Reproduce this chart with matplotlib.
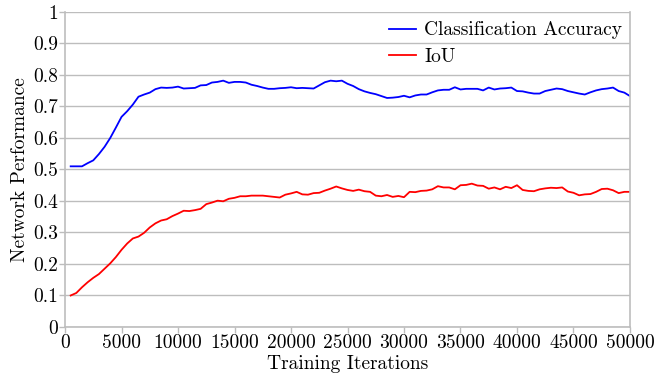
import numpy as np
import matplotlib
matplotlib.use('Agg')
import matplotlib.pyplot as plt

plt.rcParams['font.family'] = ['cmr10', 'DejaVu Serif']
plt.rcParams['mathtext.fontset'] = 'cm'
plt.rcParams['axes.formatter.use_mathtext'] = True

iterations = np.arange(500, 50001, 500)

accuracy = [
    0.510, 0.510, 0.510, 0.520, 0.529, 0.549, 0.572, 0.600, 0.633, 0.667,
    0.685, 0.706, 0.731, 0.738, 0.744, 0.755, 0.760, 0.759, 0.760, 0.763,
    0.757, 0.758, 0.759, 0.767, 0.768, 0.776, 0.778, 0.782, 0.775, 0.778,
    0.778, 0.776, 0.769, 0.765, 0.760, 0.756, 0.756, 0.758, 0.759, 0.761,
    0.758, 0.759, 0.758, 0.757, 0.767, 0.777, 0.782, 0.780, 0.782, 0.772,
    0.765, 0.755, 0.748, 0.743, 0.739, 0.733, 0.727, 0.728, 0.730, 0.734,
    0.729, 0.735, 0.738, 0.738, 0.745, 0.751, 0.753, 0.753, 0.761, 0.754,
    0.756, 0.756, 0.756, 0.751, 0.760, 0.754, 0.757, 0.758, 0.760, 0.749,
    0.748, 0.744, 0.741, 0.741, 0.749, 0.753, 0.757, 0.755, 0.749, 0.745,
    0.741, 0.738, 0.745, 0.751, 0.755, 0.757, 0.760, 0.749, 0.744, 0.733,
]

iou = [
    0.100, 0.108, 0.126, 0.142, 0.156, 0.168, 0.185, 0.202, 0.222, 0.245,
    0.265, 0.281, 0.287, 0.299, 0.316, 0.329, 0.338, 0.342, 0.352, 0.360,
    0.369, 0.368, 0.371, 0.375, 0.390, 0.395, 0.401, 0.399, 0.407, 0.410,
    0.415, 0.415, 0.417, 0.417, 0.417, 0.415, 0.413, 0.411, 0.420, 0.424,
    0.429, 0.421, 0.420, 0.425, 0.426, 0.433, 0.439, 0.446, 0.440, 0.435,
    0.432, 0.436, 0.431, 0.429, 0.417, 0.415, 0.419, 0.413, 0.416, 0.412,
    0.429, 0.428, 0.432, 0.433, 0.437, 0.447, 0.443, 0.443, 0.437, 0.450,
    0.451, 0.455, 0.449, 0.448, 0.439, 0.443, 0.437, 0.445, 0.441, 0.450,
    0.435, 0.432, 0.431, 0.437, 0.440, 0.442, 0.441, 0.443, 0.430, 0.426,
    0.418, 0.421, 0.422, 0.429, 0.438, 0.439, 0.434, 0.425, 0.429, 0.429,
]

x_ticks = list(range(0, 50001, 5000))
y_ticks = [0, 0.1, 0.2, 0.3, 0.4, 0.5, 0.6, 0.7, 0.8, 0.9, 1]
y_labels = ['0', '0.1', '0.2', '0.3', '0.4', '0.5', '0.6', '0.7', '0.8', '0.9', '1']

fig = plt.figure(figsize=(6.67, 3.74), dpi=100)
ax = fig.add_axes([0.0975, 0.1257, 0.847, 0.8423])

grid_col = '#bdbdbd'
ax.set_axisbelow(True)
ax.yaxis.grid(True, color=grid_col, linewidth=1.0)

ax.plot(iterations, accuracy, color='#0000ff', linewidth=1.3, label='Classification Accuracy')
ax.plot(iterations, iou, color='#ff0000', linewidth=1.3, label='IoU')

ax.set_xlim(0, 50000)
ax.set_ylim(0, 1)
ax.set_xticks(x_ticks)
ax.set_xticklabels([str(t) for t in x_ticks])
ax.set_yticks(y_ticks)
ax.set_yticklabels(y_labels)

for side in ['left', 'right', 'bottom']:
    ax.spines[side].set_color(grid_col)
    ax.spines[side].set_linewidth(1.2)
ax.spines['top'].set_visible(False)

ax.tick_params(axis='both', colors=grid_col, labelcolor='black', labelsize=14,
               length=4, width=1.0, pad=1)

ax.set_xlabel('Training Iterations', fontsize=14, labelpad=2)
ax.set_ylabel('Network Performance', fontsize=14, labelpad=3)

ax.legend(loc='upper right', frameon=False, fontsize=14, handlelength=1.4,
          handletextpad=0.4, borderaxespad=0.0, labelspacing=0.45,
          bbox_to_anchor=(1.0, 0.995))

fig.savefig('out.png', dpi=100)
